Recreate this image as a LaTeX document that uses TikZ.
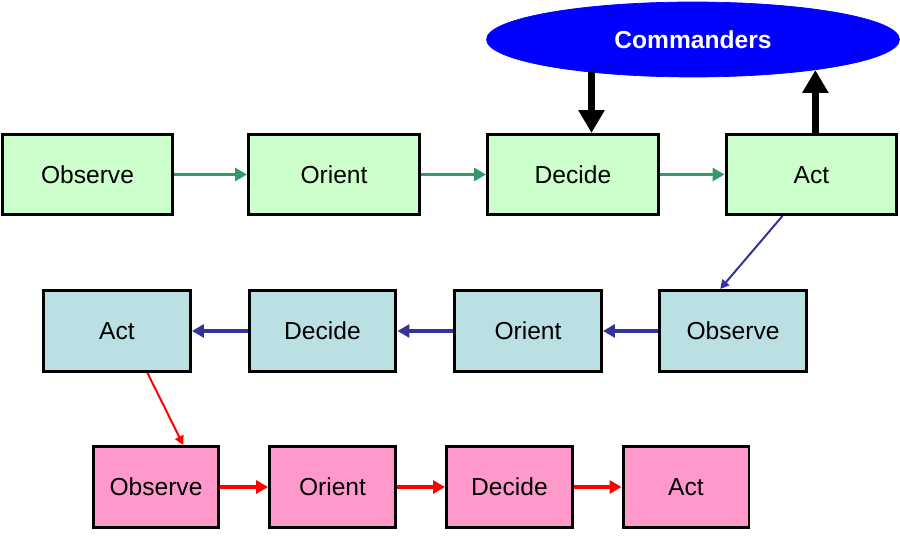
\documentclass[tikz,border=0pt]{standalone}
\usepackage{fontspec}
\setmainfont{Liberation Sans}
\usetikzlibrary{shapes.geometric, arrows.meta}
\definecolor{boxgreen}{HTML}{CCFFCC}
\definecolor{boxteal}{HTML}{BBE0E3}
\definecolor{boxpink}{HTML}{FF99CC}
\definecolor{linegreen}{HTML}{339966}
\definecolor{lineblue}{HTML}{333399}
\tikzstyle{chief} =
[
	ellipse
	, minimum width=8.26cm
	, minimum height=1.5cm
	, inner sep=0pt
	, fill=blue
	, draw=blue
	, text=white
	, font=\fontsize{14}{16}\selectfont\bfseries
]
\tikzstyle{loop1} =
[
	rectangle
	, minimum width=3.42cm
	, minimum height=1.6cm
	, text height=10.2pt
	, text depth=0pt
	, line width=1.7pt
	, draw=black
	, fill=boxgreen
]
\tikzstyle{loop2} =
[
	rectangle
	, minimum width=2.94cm
	, minimum height=1.62cm
	, text height=10.2pt
	, text depth=0pt
	, line width=1.7pt
	, draw=black
	, fill=boxteal
]
\tikzstyle{loop3} =
[
	rectangle
	, minimum width=2.52cm
	, minimum height=1.62cm
	, text height=10.2pt
	, text depth=0pt
	, line width=1.7pt
	, draw=black
	, fill=boxpink
]
\tikzstyle{arrow1} = [line width=0.06cm, color=linegreen, ->, >={Triangle[length=0.24cm, width=0.26cm]}]
\tikzstyle{arrow2} = [line width=0.07cm, color=lineblue, ->, >={Triangle[length=0.24cm, width=0.26cm]}]
\tikzstyle{arrow3} = [line width=0.08cm, color=red, ->, >={Triangle[length=0.24cm, width=0.26cm]}]
\tikzstyle{thin2} = [line width=0.04cm, color=lineblue, ->, >={Triangle[length=0.18cm, width=0.18cm]}]
\tikzstyle{thin3} = [line width=0.04cm, color=red, ->, >={Triangle[length=0.18cm, width=0.18cm]}]
\tikzstyle{fat} = [line width=0.15cm, color=black, ->, >={Triangle[length=0.46cm, width=0.5cm]}]
\begin{document}
\begin{tikzpicture}[x=0.02cm, y=-0.02cm, font=\fontsize{14}{16}\selectfont]
\useasboundingbox (0,0) rectangle (900,540);

\node(cmd)[chief] at (693,39.5){Commanders};

\node(obs1)[loop1] at (87.5,174.5){Observe};
\node(ori1)[loop1] at (334,174.5){Orient};
\node(dec1)[loop1] at (573,174.5){Decide};
\node(act1)[loop1] at (811.5,174.5){Act};

\node(obs2)[loop2] at (733,331){Observe};
\node(ori2)[loop2] at (528,331){Orient};
\node(dec2)[loop2] at (322.5,331){Decide};
\node(act2)[loop2] at (117,331){Act};

\node(obs3)[loop3] at (156,487){Observe};
\node(ori3)[loop3] at (332.5,487){Orient};
\node(dec3)[loop3] at (509.5,487){Decide};
\node(act3)[loop3] at (686,487){Act};

\draw[arrow1](obs1)--(ori1);
\draw[arrow1](ori1)--(dec1);
\draw[arrow1](dec1)--(act1);

\draw[thin2](act1.-125)--(obs2.107);
\draw[arrow2](obs2)--(ori2);
\draw[arrow2](ori2)--(dec2);
\draw[arrow2](dec2)--(act2);

\draw[thin3](act2.-54)--(obs3.57);
\draw[arrow3](obs3)--(ori3);
\draw[arrow3](ori3)--(dec3);
\draw[arrow3](dec3)--(act3);

\draw[fat](cmd.198)--(cmd.198 |- dec1.north);
\draw[fat](cmd.-14 |- act1.north)--(cmd.-14);

\end{tikzpicture}
\end{document}
